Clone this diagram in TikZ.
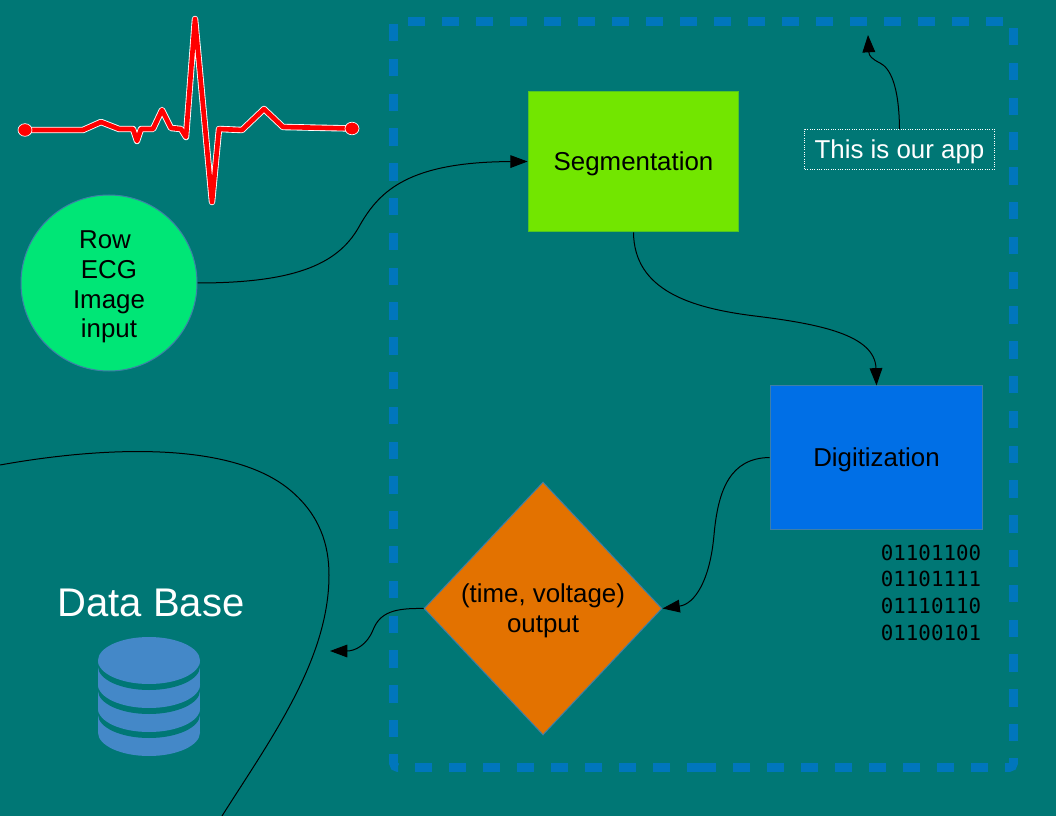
\documentclass[tikz,border=0pt]{standalone}
\usepackage{fontspec}
\setmainfont{Liberation Sans}
\setmonofont{DejaVu Sans Mono}
\usetikzlibrary{shapes.geometric,arrows.meta}
\definecolor{bgteal}{HTML}{007775}
\definecolor{appblue}{HTML}{0076BC}
\definecolor{rowgreen}{HTML}{00E676}
\definecolor{seggreen}{HTML}{72E600}
\definecolor{digblue}{HTML}{006FE6}
\definecolor{outorange}{HTML}{E37200}
\definecolor{dbblue}{HTML}{4488C8}
\definecolor{edgeblue}{HTML}{3E7FA8}
\tikzset{every picture/.style={line width=0.75pt}}
\tikzset{
  boxtext/.style={font=\fontsize{19.4}{22.3}\selectfont,align=center,text=black,inner sep=0.75pt},
  curve/.style={draw=black,line width=0.75pt,-{Triangle[length=13pt,width=9.5pt]}},
  frameline/.style={draw=appblue,line width=6.4pt},
  dashx/.style={dash pattern=on 12.75pt off 12.75pt},
  dashy/.style={dash pattern=on 13.05pt off 13.05pt}
}

\begin{document}
\begin{tikzpicture}[x=0.75pt,y=0.75pt,yscale=-1,xscale=1]
     \useasboundingbox (0,0) rectangle (1056,816);
     \fill [bgteal] (0,0) rectangle (1056,816);
     % our app frame
     \draw [frameline,dashx] (408,21.5) -- (1003,21.5) ;
     \draw [frameline,dashy] (1013.5,28) -- (1013.5,741) ;
     \draw [frameline,rounded corners=3pt] (1013.5,758) -- (1013.5,767.5) -- (1005,767.5) ;
     \draw [frameline,dashx] (988,767.5) -- (733,767.5) ;
     \draw [frameline] (716,767.5) -- (686.7,767.5) ;
     \draw [frameline,dashx] (669.5,767.5) -- (414.3,767.5) ;
     \draw [frameline,rounded corners=3pt] (393.5,754) -- (393.5,767.5) -- (398,767.5) ;
     \draw [frameline,dashy] (393.5,24) -- (393.5,737) ;
     % ECG trace
     \def\ecgtrace{(25,130) -- (83,130) -- (101,122) -- (119,129) -- (133,129) -- (137,141) -- (141,129) -- (153,129) -- (162,110) -- (171,128) -- (181,129) -- (186,137) -- (195,19) -- (212,202) -- (219,129) -- (242,130) -- (264,109) -- (283,127) -- (352,128.5)}
     \draw [white,line width=4.8pt,line join=round,line cap=round] \ecgtrace ;
     \draw [red,line width=3.5pt,line join=round,line cap=round] \ecgtrace ;
     \filldraw [fill=red,draw=white,line width=0.5pt] (25,130) ellipse [x radius=7,y radius=6.3] ;
     \filldraw [fill=red,draw=white,line width=0.5pt] (352,128.5) ellipse [x radius=7,y radius=6.3] ;
     % Nodes
     \node (rowinput) at (109,283) [circle,fill=rowgreen,draw=edgeblue,minimum size=132pt,inner sep=0pt,boxtext] {\rule{0pt}{19.6pt}Row\kern6pt\\ECG\\Image\\input};
     \node (segment) at (633.5,161.5) [rectangle,fill=seggreen,draw=seggreen!70!bgteal,minimum width=158pt,minimum height=105.5pt,inner sep=0pt,boxtext] {\rule{0pt}{17.3pt}Segmentation};
     \node (digit) at (876.5,457.5) [rectangle,fill=digblue,draw=edgeblue,minimum width=159.5pt,minimum height=107.3pt,inner sep=0pt,boxtext] {\rule{0pt}{18pt}Digitization};
     \node (output) at (543,608.5) [diamond,fill=outorange,draw=edgeblue,minimum width=178.5pt,minimum height=189.75pt,aspect=0.94,inner sep=0pt,boxtext] {\rule{0pt}{17.6pt}(time, voltage)\\output};
     \node (note) at (899.5,149.5) [rectangle,draw=white,densely dotted,minimum width=142pt,minimum height=30pt,inner sep=0pt,text=white,font=\fontsize{19.4}{22.3}\selectfont] {\rule{0pt}{17.1pt}This is our app};
     \node (binary) at (931,592.5) [font=\ttfamily\fontsize{15.6}{20}\selectfont,align=left,text=black,inner sep=0pt] {01101100\\01101111\\01110110\\01100101};
     \node (dbtitle) at (151,603) [font=\fontsize{30}{36}\selectfont,text=white,inner sep=0pt] {Data Base};
     % free ends
     \coordinate (dbend) at (330,651);
     \coordinate (append) at (868,35);
     % Connectors
     \draw [curve] (rowinput.east) .. controls (300,283) and (340,262) .. (360,225) .. controls (380,190) and (410,162) .. (segment.west) ;
     \draw [curve] (segment.south) .. controls (634,290) and (690,308) .. (755,316) .. controls (820,324) and (875,335) .. (digit.north) ;
     \draw [curve] (digit.west) .. controls (730,458) and (718,490) .. (714,535) .. controls (710,580) and (695,604) .. (output.east) ;
     \draw [curve] (output.west) .. controls (395,608) and (380,612) .. (373,630) .. controls (367,645) and (355,651) .. (dbend) ;
     \draw [curve] (note.north) .. controls (899,85) and (890,68) .. (880,63) .. controls (872,59) and (869,56) .. (append) ;
     % data base boundary
     \draw (0,465) .. controls (100,447) and (230,440) .. (290,490) .. controls (320,515) and (329,545) .. (329,575) .. controls (329,660) and (270,740) .. (222,816) ;
     % data base icon
     \fill [dbblue] (149,732.5) ellipse [x radius=51,y radius=23.5] ;
     \fill [dbblue] (98,708.5) rectangle (200,732.5) ;
     \fill [bgteal] (149,714.5) ellipse [x radius=51,y radius=23.5] ;
     \fill [dbblue] (149,708.5) ellipse [x radius=51,y radius=23.5] ;
     \fill [dbblue] (98,684.5) rectangle (200,708.5) ;
     \fill [bgteal] (149,690.5) ellipse [x radius=51,y radius=23.5] ;
     \fill [dbblue] (149,684.5) ellipse [x radius=51,y radius=23.5] ;
     \fill [dbblue] (98,660.5) rectangle (200,684.5) ;
     \fill [bgteal] (149,666.5) ellipse [x radius=51,y radius=23.5] ;
     \fill [dbblue] (149,660.5) ellipse [x radius=51,y radius=23.5] ;
\end{tikzpicture}
\end{document}
